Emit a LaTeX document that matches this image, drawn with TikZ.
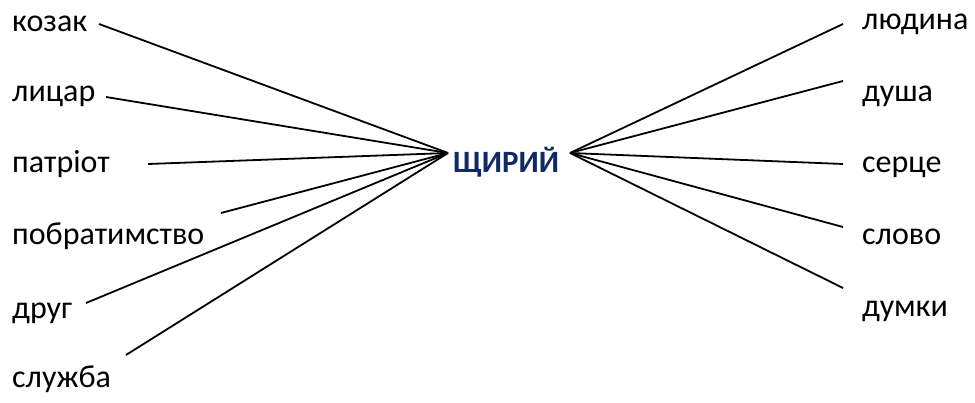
\documentclass[tikz,border=0pt]{standalone}
\usepackage{fontspec}
\setmainfont{Carlito}
\usetikzlibrary{positioning}
\definecolor{navyword}{HTML}{0F2A66}

\begin{document}
\begin{tikzpicture}[x=1pt, y=-1pt, every node/.style={font=\fontsize{32}{36}\selectfont, inner sep=0pt}]
  \useasboundingbox (0,0) rectangle (975,403);
  % centre word and the two meeting points
  \node[anchor=base west, font=\fontsize{31}{34}\selectfont\bfseries, text=navyword] (shchyryi) at (453,173) {ЩИРИЙ};
  \coordinate (cl) at (448,153);
  \coordinate (cr) at (570,153);
  % left words
  \node[anchor=base west] (kozak) at (12,32) {козак};
  \node[anchor=base west] (lytsar) at (12,102) {лицар};
  \node[anchor=base west] (patriot) at (12,173) {патріот};
  \node[anchor=base west] (pobr) at (12,245) {побратимство};
  \node[anchor=base west] (druh) at (12,319) {друг};
  \node[anchor=base west] (sluzhba) at (12,388) {служба};
  % right words
  \node[anchor=base west] (lyudyna) at (862,30) {людина};
  \node[anchor=base west] (dusha) at (862,102) {душа};
  \node[anchor=base west] (sertse) at (862,173) {серце};
  \node[anchor=base west] (slovo) at (862,245) {слово};
  \node[anchor=base west] (dumky) at (862,317) {думки};
  % free ends of the strokes
  \coordinate (kozak-e) at (99,24);
  \coordinate (lytsar-e) at (106,97);
  \coordinate (patriot-e) at (148,164);
  \coordinate (pobr-e) at (221,213);
  \coordinate (druh-e) at (86,303);
  \coordinate (sluzhba-e) at (126,355);
  \coordinate (lyudyna-e) at (843,24);
  \coordinate (dusha-e) at (843,81);
  \coordinate (sertse-e) at (843,164);
  \coordinate (slovo-e) at (843,227);
  \coordinate (dumky-e) at (843,288);
  \draw[line width=1.8pt] (kozak-e) -- (cl);
  \draw[line width=1.8pt] (lytsar-e) -- (cl);
  \draw[line width=1.8pt] (patriot-e) -- (cl);
  \draw[line width=1.8pt] (pobr-e) -- (cl);
  \draw[line width=1.8pt] (druh-e) -- (cl);
  \draw[line width=1.8pt] (sluzhba-e) -- (cl);
  \draw[line width=1.8pt] (cr) -- (lyudyna-e);
  \draw[line width=1.8pt] (cr) -- (dusha-e);
  \draw[line width=1.8pt] (cr) -- (sertse-e);
  \draw[line width=1.8pt] (cr) -- (slovo-e);
  \draw[line width=1.8pt] (cr) -- (dumky-e);
\end{tikzpicture}
\end{document}
